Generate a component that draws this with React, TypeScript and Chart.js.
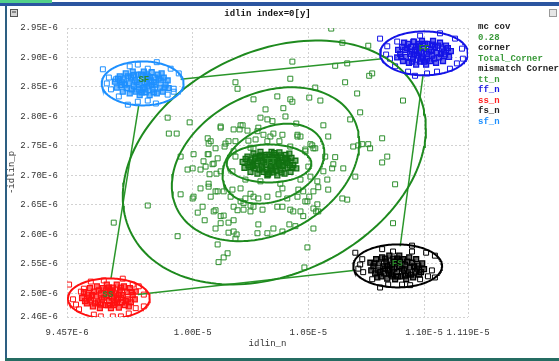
import React, { useEffect, useRef } from "react";
import { Chart, registerables } from "chart.js";

Chart.register(...registerables);

// All values are in units of 1E-6 (x: idlin_n, y: -idlin_p)
const xMin = 9.457;
const xMax = 11.19;
const yMin = 2.46;
const yMax = 2.95;
const xTicks = [9.457, 10.0, 10.5, 11.0, 11.19];
const xTickLabels = ["9.457E-6", "1.00E-5", "1.05E-5", "1.10E-5", "1.119E-5"];
const yTicks = [2.46, 2.5, 2.55, 2.6, 2.65, 2.7, 2.75, 2.8, 2.85, 2.9, 2.95];
const yTickLabels = ["2.46E-6", "2.50E-6", "2.55E-6", "2.60E-6", "2.65E-6", "2.70E-6", "2.75E-6", "2.80E-6", "2.85E-6", "2.90E-6", "2.95E-6"];

const chartTitle = "idlin index=0[y]";
const xTitle = "idlin_n";
const yTitle = "-idlin_p";

const legendTexts = ["mc cov", "0.28", "corner", "Total_Corner", "mismatch Corner", "tt_n", "ff_n", "ss_n", "fs_n", "sf_n"];
const legendColors = ["#222222", "#3a9a3a", "#222222", "#3a9a3a", "#222222", "#3a9a3a", "#1a1ae0", "#ff2020", "#222222", "#1e90ff"];

const cornerNames = ["SF", "FF", "SS", "FS", "TT"];
const cornerLabelX = [9.789, 11.0, 9.634, 10.884, 10.336];
const cornerLabelY = [2.863, 2.914, 2.497, 2.551, 2.724];

// number of points at the start of each corner array that form the dense core
const coreCount = 60;

// SF corner
const sfX = [9.664, 9.672, 9.685, 9.689, 9.698, 9.702, 9.711, 9.715, 9.724, 9.728, 9.733, 9.741, 9.746, 9.750, 9.754, 9.763, 9.767, 9.771, 9.780, 9.784, 9.789, 9.793, 9.797, 9.806, 9.810, 9.814, 9.819, 9.823, 9.827, 9.836, 9.840, 9.845, 9.849, 9.858, 9.862, 9.871, 9.875, 9.883, 9.892, 9.896, 9.677, 9.737, 9.802, 9.832, 9.866, 9.694, 9.707, 9.720, 9.758, 9.776, 9.780, 9.793, 9.802, 9.814, 9.832, 9.853, 9.879, 9.746, 9.767, 9.823,
  9.612, 9.638, 9.629, 9.647, 9.681, 9.720, 9.763, 9.806, 9.841, 9.845, 9.763, 9.728, 9.806, 9.905, 9.940, 9.918, 9.918, 9.892, 9.668];
const sfY = [2.859, 2.849, 2.868, 2.853, 2.842, 2.863, 2.873, 2.848, 2.856, 2.839, 2.866, 2.876, 2.851, 2.861, 2.842, 2.871, 2.854, 2.836, 2.864, 2.848, 2.876, 2.858, 2.841, 2.868, 2.851, 2.836, 2.861, 2.875, 2.846, 2.866, 2.854, 2.839, 2.871, 2.849, 2.861, 2.842, 2.866, 2.854, 2.861, 2.848, 2.864, 2.846, 2.856, 2.858, 2.873, 2.858, 2.854, 2.868, 2.858, 2.871, 2.841, 2.846, 2.871, 2.866, 2.841, 2.864, 2.849, 2.870, 2.846, 2.853,
  2.880, 2.866, 2.856, 2.846, 2.834, 2.820, 2.825, 2.827, 2.822, 2.892, 2.888, 2.885, 2.881, 2.881, 2.873, 2.847, 2.842, 2.837, 2.863];

// FF corner
const ffX = [11.116, 11.108, 11.095, 11.091, 11.082, 11.078, 11.069, 11.065, 11.056, 11.052, 11.047, 11.039, 11.034, 11.030, 11.026, 11.017, 11.013, 11.009, 11.000, 10.996, 10.991, 10.987, 10.983, 10.974, 10.970, 10.966, 10.961, 10.957, 10.953, 10.944, 10.940, 10.935, 10.931, 10.922, 10.918, 10.909, 10.905, 10.897, 10.888, 10.884, 11.103, 11.043, 10.978, 10.948, 10.914, 11.086, 11.073, 11.060, 11.022, 11.004, 11.000, 10.987, 10.978, 10.966, 10.948, 10.927, 10.901, 11.034, 11.013, 10.957,
  10.810, 10.841, 10.836, 10.853, 10.875, 10.931, 10.961, 11.013, 11.056, 11.112, 11.142, 11.168, 11.164, 11.134, 11.069, 10.983, 10.953, 10.884];
const ffY = [2.911, 2.901, 2.920, 2.905, 2.894, 2.915, 2.925, 2.900, 2.908, 2.891, 2.918, 2.928, 2.903, 2.913, 2.894, 2.923, 2.906, 2.888, 2.916, 2.900, 2.928, 2.910, 2.893, 2.920, 2.903, 2.888, 2.913, 2.927, 2.898, 2.918, 2.906, 2.891, 2.923, 2.901, 2.913, 2.894, 2.918, 2.906, 2.913, 2.900, 2.916, 2.898, 2.908, 2.910, 2.925, 2.910, 2.906, 2.920, 2.910, 2.923, 2.893, 2.898, 2.923, 2.918, 2.893, 2.916, 2.901, 2.922, 2.898, 2.905,
  2.932, 2.919, 2.905, 2.898, 2.885, 2.876, 2.869, 2.873, 2.876, 2.881, 2.890, 2.898, 2.915, 2.932, 2.941, 2.937, 2.927, 2.927];

// SS corner
const ssX = [9.522, 9.530, 9.543, 9.547, 9.556, 9.560, 9.569, 9.573, 9.582, 9.586, 9.591, 9.599, 9.604, 9.608, 9.612, 9.621, 9.625, 9.629, 9.638, 9.642, 9.647, 9.651, 9.655, 9.664, 9.668, 9.672, 9.677, 9.681, 9.685, 9.694, 9.698, 9.703, 9.707, 9.716, 9.720, 9.729, 9.733, 9.741, 9.750, 9.754, 9.535, 9.595, 9.660, 9.690, 9.724, 9.552, 9.565, 9.578, 9.616, 9.634, 9.638, 9.651, 9.660, 9.672, 9.690, 9.711, 9.737, 9.604, 9.625, 9.681,
  9.466, 9.483, 9.496, 9.517, 9.509, 9.573, 9.603, 9.655, 9.690, 9.724, 9.754, 9.789, 9.789, 9.767, 9.741, 9.698, 9.616, 9.560, 9.530];
const ssY = [2.492, 2.502, 2.483, 2.498, 2.509, 2.488, 2.478, 2.503, 2.495, 2.512, 2.485, 2.475, 2.500, 2.490, 2.509, 2.480, 2.497, 2.515, 2.487, 2.503, 2.475, 2.493, 2.510, 2.483, 2.500, 2.515, 2.490, 2.476, 2.505, 2.485, 2.497, 2.512, 2.480, 2.502, 2.490, 2.509, 2.485, 2.497, 2.490, 2.503, 2.487, 2.505, 2.495, 2.493, 2.478, 2.493, 2.497, 2.483, 2.493, 2.480, 2.510, 2.505, 2.480, 2.485, 2.510, 2.487, 2.502, 2.481, 2.505, 2.498,
  2.515, 2.490, 2.481, 2.503, 2.473, 2.464, 2.461, 2.461, 2.461, 2.466, 2.475, 2.478, 2.498, 2.512, 2.515, 2.525, 2.522, 2.520, 2.508];

// FS corner
const fsX = [11.000, 10.992, 10.979, 10.975, 10.966, 10.962, 10.953, 10.949, 10.940, 10.936, 10.931, 10.923, 10.918, 10.914, 10.910, 10.901, 10.897, 10.893, 10.884, 10.880, 10.875, 10.871, 10.867, 10.858, 10.854, 10.850, 10.845, 10.841, 10.837, 10.828, 10.824, 10.819, 10.815, 10.806, 10.802, 10.793, 10.789, 10.781, 10.772, 10.768, 10.987, 10.927, 10.862, 10.832, 10.798, 10.970, 10.957, 10.944, 10.906, 10.888, 10.884, 10.871, 10.862, 10.850, 10.832, 10.811, 10.785, 10.918, 10.897, 10.841,
  10.703, 10.733, 10.724, 10.716, 10.737, 10.776, 10.810, 10.845, 10.905, 10.940, 10.983, 11.017, 11.047, 11.034, 11.047, 11.009, 10.948, 10.948, 10.866, 10.819];
const fsY = [2.541, 2.551, 2.532, 2.547, 2.558, 2.537, 2.527, 2.552, 2.544, 2.561, 2.534, 2.524, 2.549, 2.539, 2.558, 2.529, 2.546, 2.564, 2.536, 2.552, 2.524, 2.542, 2.559, 2.532, 2.549, 2.564, 2.539, 2.525, 2.554, 2.534, 2.546, 2.561, 2.529, 2.551, 2.539, 2.558, 2.534, 2.546, 2.539, 2.552, 2.536, 2.554, 2.544, 2.542, 2.527, 2.542, 2.546, 2.532, 2.542, 2.529, 2.559, 2.554, 2.529, 2.534, 2.559, 2.536, 2.551, 2.530, 2.554, 2.547,
  2.569, 2.558, 2.549, 2.542, 2.536, 2.524, 2.510, 2.515, 2.515, 2.514, 2.524, 2.529, 2.527, 2.539, 2.564, 2.569, 2.571, 2.581, 2.571, 2.575];

// TT (typical) dense core
const ttCoreX = [10.216, 10.224, 10.237, 10.241, 10.250, 10.254, 10.263, 10.267, 10.276, 10.280, 10.285, 10.293, 10.298, 10.302, 10.306, 10.315, 10.319, 10.323, 10.332, 10.336, 10.341, 10.345, 10.349, 10.358, 10.362, 10.366, 10.371, 10.375, 10.379, 10.388, 10.392, 10.397, 10.401, 10.410, 10.414, 10.423, 10.427, 10.435, 10.444, 10.448, 10.229, 10.289, 10.354, 10.384, 10.418, 10.246, 10.259, 10.272, 10.310, 10.328, 10.332, 10.345, 10.354, 10.366, 10.384, 10.405, 10.431, 10.298, 10.319, 10.375,
  10.260, 10.282, 10.300, 10.318, 10.338, 10.356, 10.372, 10.390, 10.408, 10.270, 10.292, 10.312, 10.344, 10.362, 10.382, 10.400, 10.250, 10.420, 10.326, 10.352];
const ttCoreY = [2.723, 2.713, 2.732, 2.717, 2.706, 2.727, 2.737, 2.712, 2.720, 2.703, 2.730, 2.740, 2.715, 2.725, 2.706, 2.735, 2.718, 2.700, 2.728, 2.712, 2.740, 2.722, 2.705, 2.732, 2.715, 2.700, 2.725, 2.739, 2.710, 2.730, 2.718, 2.703, 2.735, 2.713, 2.725, 2.706, 2.730, 2.718, 2.725, 2.712, 2.728, 2.710, 2.720, 2.722, 2.737, 2.722, 2.718, 2.732, 2.722, 2.735, 2.705, 2.710, 2.735, 2.730, 2.705, 2.728, 2.713, 2.734, 2.710, 2.717,
  2.716, 2.724, 2.712, 2.727, 2.716, 2.725, 2.720, 2.716, 2.722, 2.729, 2.733, 2.731, 2.731, 2.708, 2.734, 2.729, 2.714, 2.717, 2.702, 2.738];

// TT spread samples
const ttSpreadX = [10.185, 10.194, 9.892, 9.987, 9.897, 9.931, 10.121, 10.207, 10.203, 10.263, 10.315, 10.293, 10.323, 10.345, 10.237, 10.280, 10.366, 10.065, 10.069, 10.099, 10.138, 10.177, 10.155, 10.004, 10.000, 9.978, 9.948, 10.069, 10.047, 10.086, 10.108, 10.034, 10.073, 10.103, 10.241, 10.263, 10.323, 10.349, 10.306, 10.375,
  10.599, 10.647, 10.759, 10.431, 10.616, 10.668, 10.763, 10.776, 10.659, 10.422, 10.530, 10.711, 10.392, 10.422, 10.431, 10.504, 10.552, 10.909, 10.681, 10.724, 10.448, 10.401, 10.565, 10.453, 10.517, 10.522, 10.487, 10.694, 10.716, 10.733, 10.759, 10.819, 10.841, 10.819, 10.616, 10.608, 10.651, 10.703, 10.565, 10.509, 10.767,
  9.806, 9.659, 9.935, 10.004, 10.034, 10.069, 10.108, 10.043, 10.022, 10.052, 10.099, 10.134, 10.121, 10.155, 10.177, 10.099, 10.155, 10.177, 10.185, 10.190, 10.108, 10.151, 10.134, 10.112, 10.000, 9.948, 10.194, 10.220, 10.263, 10.284, 10.323, 10.280, 10.349, 10.228, 10.263, 10.164, 10.207, 10.250,
  10.388, 10.457, 10.522, 10.543, 10.586, 10.504, 10.487, 10.539, 10.534, 10.435, 10.388, 10.478, 10.647, 10.668, 10.418, 10.444, 10.388, 10.522, 10.875, 10.496, 10.483, 10.866,
  10.121, 10.177, 10.216, 10.284, 10.336, 10.388, 10.453, 10.466, 10.586, 10.078, 10.142, 10.185, 10.272, 10.509, 10.530, 10.065, 10.091, 10.056, 10.121, 10.573, 10.603, 10.582, 10.539, 10.069, 10.099, 10.134, 10.172, 10.207, 10.250, 10.284, 10.323, 10.371, 10.409, 10.453, 10.478, 10.496, 10.522, 10.543, 10.220, 10.177, 10.091, 10.121, 10.250, 10.302, 10.366, 10.422, 10.466, 10.078,
  10.185, 10.172, 10.228, 10.293, 10.379, 10.466, 10.500, 10.487, 10.422, 10.250];
const ttSpreadY = [2.858, 2.847, 2.798, 2.790, 2.771, 2.771, 2.781, 2.785, 2.778, 2.829, 2.812, 2.798, 2.795, 2.792, 2.776, 2.775, 2.834, 2.763, 2.754, 2.746, 2.749, 2.741, 2.758, 2.736, 2.712, 2.710, 2.732, 2.736, 2.724, 2.719, 2.729, 2.710, 2.702, 2.703, 2.759, 2.746, 2.758, 2.771, 2.769, 2.758,
  2.949, 2.925, 2.920, 2.893, 2.886, 2.890, 2.869, 2.873, 2.858, 2.864, 2.849, 2.839, 2.814, 2.829, 2.825, 2.832, 2.827, 2.827, 2.795, 2.807, 2.788, 2.800, 2.785, 2.766, 2.751, 2.746, 2.744, 2.749, 2.751, 2.753, 2.753, 2.763, 2.732, 2.722, 2.731, 2.719, 2.712, 2.698, 2.707, 2.698, 2.746,
  2.649, 2.620, 2.597, 2.664, 2.678, 2.681, 2.673, 2.647, 2.637, 2.624, 2.641, 2.632, 2.619, 2.620, 2.624, 2.610, 2.603, 2.605, 2.593, 2.600, 2.583, 2.568, 2.561, 2.553, 2.661, 2.668, 2.641, 2.642, 2.647, 2.617, 2.602, 2.602, 2.610, 2.661, 2.664, 2.664, 2.656, 2.649,
  2.678, 2.676, 2.673, 2.680, 2.676, 2.664, 2.656, 2.651, 2.639, 2.639, 2.647, 2.631, 2.661, 2.659, 2.617, 2.614, 2.605, 2.610, 2.685, 2.578, 2.544, 2.619,
  2.783, 2.778, 2.785, 2.781, 2.766, 2.769, 2.769, 2.766, 2.766, 2.758, 2.754, 2.758, 2.761, 2.753, 2.746, 2.736, 2.720, 2.715, 2.707, 2.732, 2.712, 2.693, 2.690, 2.686, 2.673, 2.673, 2.676, 2.678, 2.669, 2.661, 2.664, 2.668, 2.661, 2.664, 2.673, 2.656, 2.644, 2.639, 2.653, 2.647, 2.639, 2.631, 2.639, 2.642, 2.647, 2.642, 2.639, 2.664,
  2.732, 2.707, 2.693, 2.690, 2.686, 2.693, 2.715, 2.741, 2.749, 2.747];

// Confidence ellipses: centre, half-widths, correlation
const ellNames = ["sf", "ff", "ss", "fs", "tt1", "tt2", "tt3", "tt4"];
const ellCx = [9.784, 11.0, 9.638, 10.886, 10.330, 10.349, 10.315, 10.353];
const ellCy = [2.856, 2.907, 2.4915, 2.5466, 2.7203, 2.720, 2.719, 2.722];
const ellRx = [0.177, 0.190, 0.177, 0.192, 0.183, 0.220, 0.405, 0.655];
const ellRy = [0.0373, 0.0373, 0.0339, 0.0364, 0.0322, 0.0678, 0.1305, 0.2068];
const ellRho = [0, 0, 0, 0, 0, 0.28, 0.28, 0.28];
const ellColors = ["#1e90ff", "#1414e6", "#ff1010", "#000000", "#1e8a1e", "#1e8a1e", "#1e8a1e", "#1e8a1e"];

// Corner connection lines (start x, start y, end x, end y)
const linkX1 = [9.948, 10.996, 10.694, 9.647];
const linkY1 = [2.863, 2.871, 2.539, 2.525];
const linkX2 = [10.819, 10.897, 9.763, 9.767];
const linkY2 = [2.898, 2.580, 2.498, 2.819];

const FONT = "'Liberation Mono', 'DejaVu Sans Mono', monospace";

function pts(xs: number[], ys: number[]) {
  return xs.map((x, i) => ({ x, y: ys[i] }));
}

function ellipse(i: number) {
  const out: { x: number; y: number }[] = [];
  const s = Math.sqrt(1 - ellRho[i] * ellRho[i]);
  const n = 160;
  for (let k = 0; k <= n; k++) {
    const t = (k / n) * Math.PI * 2;
    out.push({
      x: ellCx[i] + ellRx[i] * Math.cos(t),
      y: ellCy[i] + ellRy[i] * (ellRho[i] * Math.cos(t) + s * Math.sin(t)),
    });
  }
  return out;
}

const framePlugin = {
  id: "frame",
  beforeDraw(chart: any) {
    const ctx = chart.ctx;
    const W = chart.width;
    const H = chart.height;
    ctx.save();
    ctx.fillStyle = "#ffffff";
    ctx.fillRect(0, 0, W, H);
    ctx.fillStyle = "#2b55a0";
    ctx.fillRect(0, 2, W, 4);
    ctx.fillStyle = "#52d08a";
    ctx.fillRect(0, 0, 52, 3);
    ctx.fillStyle = "#2d5f82";
    ctx.fillRect(5, 6, 2, H - 6);
    ctx.fillStyle = "#256c62";
    ctx.fillRect(5, H - 3, W - 5, 3);
    ctx.fillStyle = "#d6d6d6";
    ctx.fillRect(10, 9, 8, 8);
    ctx.strokeStyle = "#555";
    ctx.lineWidth = 1;
    ctx.strokeRect(10.5, 9.5, 7, 7);
    ctx.fillStyle = "#888";
    ctx.fillRect(12, 11, 4, 2);
    ctx.fillStyle = "#e6e6e6";
    ctx.fillRect(549, 9, 8, 8);
    ctx.strokeStyle = "#999";
    ctx.strokeRect(549.5, 9.5, 7, 7);
    ctx.restore();
  },
};

const textPlugin = {
  id: "texts",
  afterDraw(chart: any) {
    const ctx = chart.ctx;
    const xs = chart.scales.x;
    const ys = chart.scales.y;
    const ca = chart.chartArea;
    ctx.save();
    ctx.font = `bold 9px ${FONT}`;
    ctx.textBaseline = "middle";
    ctx.textAlign = "center";
    ctx.fillStyle = "#2a8a2a";
    cornerNames.forEach((n, i) => {
      ctx.fillText(n, xs.getPixelForValue(cornerLabelX[i]), ys.getPixelForValue(cornerLabelY[i]));
    });
    ctx.fillStyle = "#111111";
    ctx.fillText(chartTitle, (ca.left + ca.right) / 2, 14);
    ctx.textAlign = "left";
    legendTexts.forEach((t, i) => {
      ctx.fillStyle = legendColors[i];
      ctx.fillText(t, 478, 27 + i * 10.5);
    });
    ctx.restore();
  },
};

export default function App() {
  const ref = useRef<HTMLCanvasElement | null>(null);

  useEffect(() => {
    if (!ref.current) return;
    const datasets: any[] = [];
    ellNames.forEach((name, i) => {
      datasets.push({
        label: name,
        data: ellipse(i),
        showLine: true,
        borderColor: ellColors[i],
        borderWidth: 2,
        pointRadius: 0,
        fill: false,
        tension: 0,
      });
    });
    linkX1.forEach((_, i) => {
      datasets.push({
        label: "link" + i,
        data: [
          { x: linkX1[i], y: linkY1[i] },
          { x: linkX2[i], y: linkY2[i] },
        ],
        showLine: true,
        borderColor: "#2a962a",
        borderWidth: 1.5,
        pointRadius: 0,
        fill: false,
      });
    });
    // name, x, y, stroke colour, core fill colour, number of core points
    const pointSets: [string, number[], number[], string, string, number][] = [
      ["tt_core", ttCoreX, ttCoreY, "#117011", "rgba(20,120,20,0.55)", ttCoreX.length],
      ["tt_n", ttSpreadX, ttSpreadY, "#2e8f2e", "rgba(0,0,0,0)", 0],
      ["sf_n", sfX, sfY, "#1e90ff", "rgba(30,144,255,0.6)", coreCount],
      ["ff_n", ffX, ffY, "#1414e6", "rgba(20,20,230,0.6)", coreCount],
      ["ss_n", ssX, ssY, "#ff1010", "rgba(255,16,16,0.6)", coreCount],
      ["fs_n", fsX, fsY, "#000000", "rgba(0,0,0,0.6)", coreCount],
    ];
    pointSets.forEach(([name, x, y, c, fillC, nCore]) => {
      datasets.push({
        label: name,
        data: pts(x, y),
        pointStyle: "rect",
        pointRadius: 3.5,
        pointBorderWidth: (ctx: any) => (ctx.dataIndex < nCore ? 1.3 : 1),
        borderColor: c,
        pointBorderColor: c,
        backgroundColor: "rgba(0,0,0,0)",
        pointBackgroundColor: (ctx: any) => (ctx.dataIndex < nCore ? fillC : "rgba(0,0,0,0)"),
        showLine: false,
      });
    });

    const tickFont = { family: FONT, size: 9 };
    const chart = new Chart(ref.current, {
      type: "scatter",
      data: { datasets },
      plugins: [framePlugin, textPlugin],
      options: {
        responsive: false,
        animation: false,
        events: [],
        layout: { padding: { left: 0, right: 91, top: 28, bottom: 0 } },
        plugins: {
          legend: { display: false },
          tooltip: { enabled: false },
          title: { display: false },
        },
        scales: {
          x: {
            type: "linear",
            min: xMin,
            max: xMax,
            afterBuildTicks: (axis: any) => {
              axis.ticks = xTicks.map((v) => ({ value: v }));
            },
            afterFit: (axis: any) => {
              axis.height = 44;
            },
            ticks: {
              autoSkip: false,
              maxRotation: 0,
              minRotation: 0,
              padding: 10,
              font: tickFont,
              color: "#333333",
              callback: (_v: any, i: number) => xTickLabels[i],
            },
            grid: { color: "#d2d2d2", drawTicks: false, lineWidth: 1 },
            border: { display: false, dash: [2, 2] },
            title: { display: true, text: xTitle, font: tickFont, color: "#333333", padding: { top: 0, bottom: 12 } },
          },
          y: {
            type: "linear",
            min: yMin,
            max: yMax,
            afterBuildTicks: (axis: any) => {
              axis.ticks = yTicks.map((v) => ({ value: v }));
            },
            afterFit: (axis: any) => {
              axis.width = 67;
            },
            ticks: {
              autoSkip: false,
              padding: 9,
              font: tickFont,
              color: "#333333",
              callback: (_v: any, i: number) => yTickLabels[i],
            },
            grid: { color: "#d2d2d2", drawTicks: false, lineWidth: 1 },
            border: { display: false, dash: [2, 2] },
            title: { display: true, text: yTitle, font: tickFont, color: "#333333", padding: { top: 6, bottom: 0 } },
          },
        },
      } as any,
    });
    return () => chart.destroy();
  }, []);

  return (
    <div style={{ position: "absolute", left: 0, top: 0, width: 559, height: 361 }}>
      <canvas ref={ref} width={559} height={361} />
    </div>
  );
}
